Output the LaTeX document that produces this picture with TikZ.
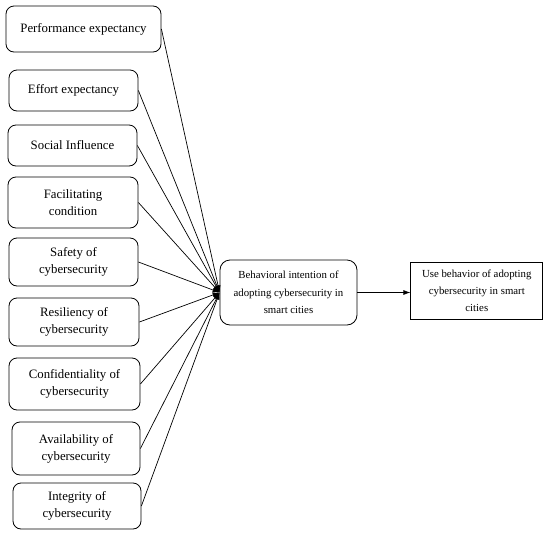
\documentclass[tikz,border=0pt]{standalone}
\usepackage{fontspec}
\setmainfont{Liberation Serif}
\usetikzlibrary{arrows.meta, positioning}

\begin{document}
\begin{tikzpicture}[
  x=1pt, y=-1pt,
  >=Latex,
  factor/.style={draw, line width=0.8pt, rounded corners=8pt, align=center,
                 minimum width=129pt, minimum height=41pt, inner sep=2pt,
                 font=\fontsize{12.8}{17}\selectfont},
  core/.style={draw, line width=0.8pt, rounded corners=10pt, align=center,
               minimum width=137pt, minimum height=65pt, inner sep=2pt,
               font=\fontsize{10.8}{17.5}\selectfont},
  outcome/.style={draw, line width=0.8pt, align=center,
                  minimum width=132pt, minimum height=57pt, inner sep=2pt,
                  font=\fontsize{10.8}{17}\selectfont},
  link/.style={-{Latex[length=7pt,width=5pt]}, line width=0.7pt}
]
\useasboundingbox (0,0) rectangle (550,536);

%% -- Facteurs --------------------------------------------------------
\node[factor, minimum width=155pt, minimum height=46pt] (perf) at (83.5,29)
  {Performance expectancy};
\node[factor] (eff) at (73.5,90.5) {Effort expectancy};
\node[factor] (soc) at (72.5,145.5) {Social Influence};
\node[factor, minimum width=130pt, minimum height=51pt] (fac) at (73,202.5)
  {Facilitating\\condition};
\node[factor, minimum height=48pt] (safe) at (73.5,262)
  {Safety of\\cybersecurity};
\node[factor, minimum width=130pt, minimum height=48pt] (res) at (74,322)
  {Resiliency of\\cybersecurity};
\node[factor, minimum width=131pt, minimum height=52pt] (conf) at (74.5,384)
  {Confidentiality of\\cybersecurity};
\node[factor, minimum width=128pt, minimum height=53pt] (avail) at (76,448.5)
  {Availability of\\cybersecurity};
\node[factor, minimum width=128pt, minimum height=46pt] (integ) at (77,506)
  {Integrity of\\cybersecurity};

%% -- Intention et usage ----------------------------------------------
\node[core] (intent) at (288.5,292.5)
  {Behavioral intention of\\adopting cybersecurity in\\smart cities};
\node[outcome, right=53pt of intent, yshift=2pt] (use)
  {Use behavior of adopting\\cybersecurity in smart\\cities};

%% -- Fleches ---------------------------------------------------------
\draw[link] (perf.east)  -- (intent.west);
\draw[link] (eff.east)   -- (intent.west);
\draw[link] (soc.east)   -- (intent.west);
\draw[link] (fac.east)   -- (intent.west);
\draw[link] (safe.east)  -- (intent.west);
\draw[link] (res.east)   -- (intent.west);
\draw[link] (conf.east)  -- (intent.west);
\draw[link] (avail.east) -- (intent.west);
\draw[link] (integ.east) -- (intent.west);

\draw[link] (intent.east) -- (intent.east -| use.west);

\end{tikzpicture}
\end{document}
